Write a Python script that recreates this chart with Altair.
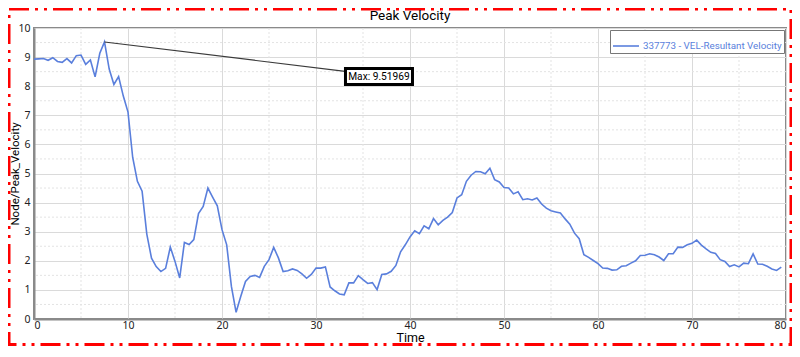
import altair as alt
import pandas as pd

# ---------------- data ----------------
velocity = [
    8.93, 8.94, 8.95, 8.89, 8.98, 8.85, 8.82, 8.95, 8.80, 9.05,
    9.07, 8.75, 8.90, 8.32, 9.13, 9.51969, 8.59, 8.06, 8.33, 7.66,
    7.11, 5.55, 4.73, 4.39, 2.92, 2.09, 1.80, 1.63,
    1.74, 2.47, 1.98, 1.41, 2.63, 2.56, 2.73, 3.62, 3.87, 4.50,
    4.19, 3.89, 3.07, 2.55, 1.12, 0.23, 0.78, 1.29, 1.46, 1.50,
    1.43, 1.81, 2.04, 2.46, 2.10, 1.63,
    1.66, 1.72, 1.67, 1.55, 1.40, 1.53, 1.75, 1.75, 1.79, 1.10,
    0.97, 0.86, 0.83, 1.24, 1.24, 1.49, 1.35, 1.22, 1.25, 1.01,
    1.53, 1.55, 1.64, 1.84, 2.31, 2.55, 2.82,
    3.03, 2.93, 3.20, 3.10, 3.45, 3.24, 3.39, 3.50, 3.66, 4.16,
    4.27, 4.73, 4.94, 5.07, 5.06, 4.99, 5.18, 4.79, 4.71, 4.52,
    4.50, 4.30, 4.37, 4.10, 4.13, 4.09,
    4.16, 3.95, 3.81, 3.72, 3.68, 3.64, 3.44, 3.26, 2.95, 2.76,
    2.21, 2.12, 2.01, 1.90, 1.75, 1.74, 1.68, 1.69, 1.81, 1.83,
    1.92, 2.00, 2.18, 2.19, 2.24, 2.21, 2.13,
    2.01, 2.24, 2.24, 2.47, 2.46, 2.55, 2.60, 2.71, 2.54, 2.41,
    2.29, 2.25, 2.04, 1.98, 1.80, 1.86, 1.79, 1.92, 1.90, 2.24,
    1.89, 1.88, 1.81, 1.72, 1.67, 1.78,
]
time = [0.5 * i for i in range(len(velocity))]  # sampling grid, step 0.5

series_name = "337773 - VEL-Resultant Velocity"
chart_title = "Peak Velocity"
x_title = "Time"
y_title = "Node/Peak_Velocity"
x_major = [0, 10, 20, 30, 40, 50, 60, 70, 80]
x_minor = [5, 15, 25, 35, 45, 55, 65, 75]
y_major = [0, 1, 2, 3, 4, 5, 6, 7, 8, 9, 10]
y_minor = [0.5, 1.5, 2.5, 3.5, 4.5, 5.5, 6.5, 7.5, 8.5, 9.5]

# annotation placement (data units) for the "Max" call-out
callout_anchor = (33.1, 8.51)   # where the leader line meets the box
callout_center = (36.7, 8.33)   # centre of the box

FONT = "Noto Sans"
NARROW = "Roboto"
BLUE = "#5a7fdc"
FRAME = "#8a8a8a"
MINOR = "#e3e3e3"

W, H = 752, 291

# ---------------- tables ----------------
df = pd.DataFrame({"Time": time, "Velocity": velocity, "Series": series_name})

imax = max(range(len(velocity)), key=lambda i: velocity[i])
peak_t, peak_v = time[imax], velocity[imax]

leader = pd.DataFrame({"t": [peak_t], "v": [peak_v],
                       "t2": [callout_anchor[0]], "v2": [callout_anchor[1]]})
box = pd.DataFrame({"t": [callout_center[0]], "v": [callout_center[1]],
                    "label": [f"Max: {peak_v:.5f}"]})
one = pd.DataFrame({"k": [0], "title": [chart_title]})
xminor_df = pd.DataFrame({"t": x_minor})
yminor_df = pd.DataFrame({"v": y_minor})

x_scale = alt.Scale(domain=[0, 80], nice=False, zero=False)
y_scale = alt.Scale(domain=[0, 10], nice=False, zero=False)

x_axis = alt.Axis(
    values=x_major, tickCount=len(x_major), title=x_title, ticks=False, labelOverlap=False,
    gridColor="#dadada", labelPadding=1.5,
    titleX=W / 2, titleY=22.5, titleBaseline="alphabetic", titleAlign="center",
    titleFont=NARROW, titleFontSize=12.5,
)
y_axis = alt.Axis(
    values=y_major, tickCount=len(y_major), title=y_title, ticks=False, labelOverlap=False,
    gridColor="#dadada", labelPadding=4,
    titleX=-13.5, titleY=H / 2, titleAngle=270, titleBaseline="bottom", titleAlign="center",
    titleFont=NARROW, titleFontSize=11.5,
)

xminor = alt.Chart(xminor_df).mark_rule(color=MINOR, strokeWidth=1, strokeDash=[2, 2]).encode(
    x=alt.X("t:Q", scale=x_scale, axis=x_axis),
)
yminor = alt.Chart(yminor_df).mark_rule(color=MINOR, strokeWidth=1, strokeDash=[2, 2]).encode(
    y=alt.Y("v:Q", scale=y_scale, axis=y_axis),
)

line = alt.Chart(df).mark_line(strokeWidth=1.6).encode(
    x=alt.X("Time:Q", scale=x_scale, axis=x_axis),
    y=alt.Y("Velocity:Q", scale=y_scale, axis=y_axis),
    color=alt.Color(
        "Series:N",
        scale=alt.Scale(range=[BLUE]),
        legend=alt.Legend(
            title=None, orient="none", legendX=576, legendY=2,
            symbolType="stroke", symbolSize=676, symbolStrokeWidth=1.6,
            labelColor=BLUE, labelFont=NARROW, labelFontSize=9.8,
            strokeColor="#777777", fillColor="white", padding=2,
            labelOffset=3,
        ),
    ),
)

lead = alt.Chart(leader).mark_rule(color="#3a3a3a", strokeWidth=1.2).encode(
    x=alt.X("t:Q", scale=x_scale), y=alt.Y("v:Q", scale=y_scale),
    x2="t2:Q", y2="v2:Q",
)

callout_box = alt.Chart(box).mark_rect(
    fill="white", stroke="black", strokeWidth=3,
    xOffset=-33.5, x2Offset=33.5, yOffset=-8, y2Offset=8,
).encode(
    x=alt.X("t:Q", scale=x_scale), x2="t:Q",
    y=alt.Y("v:Q", scale=y_scale), y2="v:Q",
)

callout_text = alt.Chart(box).mark_text(
    font=NARROW, fontSize=10.2, color="black", align="center", baseline="middle",
).encode(
    x=alt.X("t:Q", scale=x_scale), y=alt.Y("v:Q", scale=y_scale), text="label:N",
)

outer_frame = alt.Chart(one).mark_rect(
    filled=False, stroke="#ff0000", strokeWidth=3,
    strokeDash=[20, 6, 3, 6, 3, 6],
).encode(
    x=alt.value(-25), x2=alt.value(757), y=alt.value(-19), y2=alt.value(316.5),
)

title_text = alt.Chart(one).mark_text(
    font=NARROW, fontSize=13.5, color="black", align="center", baseline="middle",
).encode(
    x=alt.value(W / 2), y=alt.value(-12), text="title:N",
)

chart = alt.layer(
    outer_frame, xminor, yminor, line, lead, callout_box, callout_text, title_text
).properties(
    width=W, height=H,
    autosize=alt.AutoSizeParams(type="none"),
    padding={"left": 26, "top": 20, "right": 6, "bottom": 28},
).configure(
    background="white",
).configure_view(
    stroke=FRAME, strokeWidth=2,
).configure_axis(
    domainColor=FRAME, domainWidth=2,
    labelFont=FONT, labelFontSize=10.5, labelColor="#222222",
    titleFontWeight="normal", titleColor="black",
)

chart.save("out.html", embed_options={"renderer": "svg", "actions": False})
